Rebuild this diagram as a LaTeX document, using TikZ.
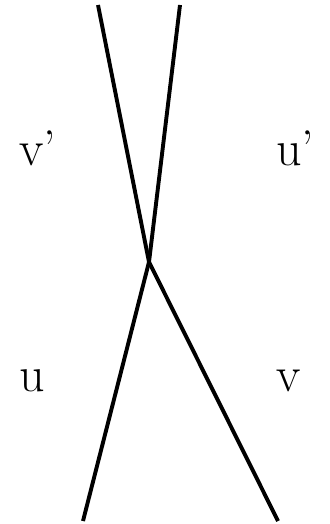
\documentclass[tikz,border=0pt]{standalone}
\usepackage{tikz}
\usetikzlibrary{positioning}

\begin{document}
\begin{tikzpicture}[
  x=1pt, y=-1pt,
  %% Strand and label styles
  strand/.style={draw=black, line width=3.9pt},
  lbl/.style={inner sep=0pt, anchor=base west,
              font=\fontsize{50}{56}\selectfont}
]
\useasboundingbox (0,0) rectangle (329,524);

%% ── End points and crossing ───────────────────────────────────────────────
\coordinate (xing) at (149,262);
\coordinate (topL) at (98,5);
\coordinate (topR) at (180,5);
\coordinate (botL) at (83,521);
\coordinate (botR) at (278,521);

%% ── Strands ───────────────────────────────────────────────────────────────
\draw[strand] (topL) -- (xing) -- (botR);
\draw[strand] (topR) -- (xing) -- (botL);

%% ── Labels ────────────────────────────────────────────────────────────────
\node[lbl] (vp) at (19,165) {v'};
\node[lbl] (up) at (276,165) {u'};
\node[lbl] (u)  at (19,391) {u};
\node[lbl] (v)  at (276,391) {v};

\end{tikzpicture}
\end{document}
